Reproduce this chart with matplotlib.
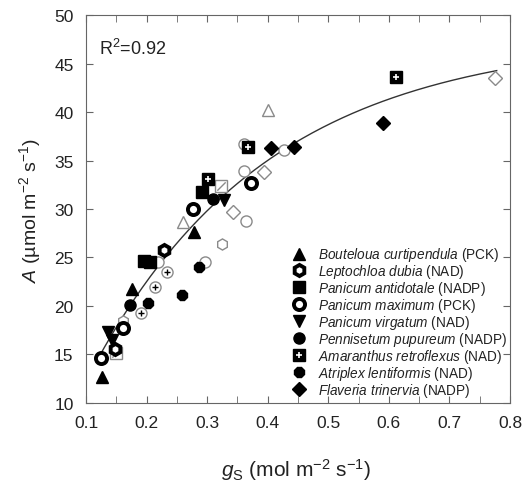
import numpy as np
import matplotlib
matplotlib.use("Agg")
import matplotlib.pyplot as plt
from matplotlib.ticker import MultipleLocator

plt.rcParams['font.family'] = ['Liberation Sans', 'DejaVu Sans']
plt.rcParams['mathtext.fontset'] = 'custom'
plt.rcParams['mathtext.rm'] = 'Liberation Sans'
plt.rcParams['mathtext.it'] = 'Liberation Sans:italic'

# --- Data: filled symbols (one list pair per species) ---
bout_gs = [0.127, 0.176, 0.279]
bout_A = [12.7, 21.8, 27.6]
lept_gs = [0.229, 0.147]
lept_A = [25.8, 15.6]
pant_gs = [0.195, 0.206, 0.291]
pant_A = [24.6, 24.5, 31.8]
pmax_gs = [0.125, 0.277, 0.372, 0.161]
pmax_A = [14.6, 30.0, 32.7, 17.7]
pvir_gs = [0.137, 0.327, 0.143]
pvir_A = [17.3, 30.9, 16.5]
penn_gs = [0.173, 0.309]
penn_A = [20.1, 31.0]
amar_gs = [0.302, 0.367, 0.612]
amar_A = [33.1, 36.4, 43.6]
atri_gs = [0.203, 0.258, 0.287]
atri_A = [20.3, 21.1, 24.0]
flav_gs = [0.405, 0.443, 0.591]
flav_A = [36.3, 36.4, 38.9]

# --- Data: open (grey) symbols ---
otri_gs = [0.260, 0.400]
otri_A = [28.7, 40.2]
ohex_gs = [0.324, 0.161]
ohex_A = [26.4, 18.5]
osq_gs = [0.322, 0.150]
osq_A = [32.4, 15.2]
oplus_gs = [0.234, 0.213, 0.190]
oplus_A = [23.5, 22.0, 19.3]
odia_gs = [0.342, 0.394, 0.775]
odia_A = [29.7, 33.8, 43.5]
ocir_gs = [0.360, 0.360, 0.364, 0.297, 0.427, 0.219]
ocir_A = [36.7, 33.9, 28.8, 24.5, 36.1, 24.5]

# fitted curve: A = c + a*(1 - exp(-k*gs)), estimated parameters
fit_a, fit_k, fit_c = 50.0, 3.41, -2.2
fit_range = [0.12, 0.778]

fig = plt.figure(figsize=(5.28, 4.89), dpi=100)
ax = fig.add_axes([0.163, 0.174, 0.803, 0.793])

grey = '#8a8a8a'
ms = 8

# fit line
xs = np.linspace(fit_range[0], fit_range[1], 200)
ax.plot(xs, fit_c + fit_a * (1 - np.exp(-fit_k * xs)), color='#333333', lw=1.0, zorder=1)

# open symbols
ok = dict(ls='none', mfc='white', mec=grey, mew=1.0, ms=ms, zorder=2)
ax.plot(otri_gs, otri_A, marker='^', **ok)
ax.plot(ohex_gs, ohex_A, marker='h', **ok)
ax.plot(osq_gs, osq_A, marker='s', **ok)
ax.plot(osq_gs, osq_A, marker=[(-1, -1), (1, 1)], ls='none', mec=grey, mew=1.0, ms=6, zorder=2)
ax.plot(oplus_gs, oplus_A, marker='o', **ok)
ax.plot(oplus_gs, oplus_A, marker='+', ls='none', mec='black', mew=1.0, ms=4, zorder=2)
ax.plot(odia_gs, odia_A, marker='D', ls='none', mfc='white', mec=grey, mew=1.0, ms=7, zorder=2)
ax.plot(ocir_gs, ocir_A, marker='o', **ok)

# filled symbols
h_bout, = ax.plot(bout_gs, bout_A, marker='^', ls='none', color='black', ms=ms, zorder=3)
h_lept, = ax.plot(lept_gs, lept_A, marker='h', ls='none', mfc='white', mec='black', mew=2.8, ms=8, zorder=3)
h_pant, = ax.plot(pant_gs, pant_A, marker='s', ls='none', color='black', ms=ms, zorder=3)
h_pmax, = ax.plot(pmax_gs, pmax_A, marker='o', ls='none', mfc='white', mec='black', mew=2.8, ms=8, zorder=3)
h_pvir, = ax.plot(pvir_gs, pvir_A, marker='v', ls='none', color='black', ms=ms, zorder=3)
h_penn, = ax.plot(penn_gs, penn_A, marker='o', ls='none', color='black', ms=ms, zorder=3)
h_amar, = ax.plot(amar_gs, amar_A, marker='s', ls='none', color='black', ms=ms, zorder=3)
h_amar2, = ax.plot(amar_gs, amar_A, marker='+', ls='none', mec='white', mew=1.2, ms=4, zorder=3)
h_atri, = ax.plot(atri_gs, atri_A, marker='8', ls='none', color='black', ms=ms, zorder=3)
h_flav, = ax.plot(flav_gs, flav_A, marker='D', ls='none', color='black', ms=7, zorder=3)

labels = [
    r'$\it{Bouteloua\ curtipendula}$ (PCK)',
    r'$\it{Leptochloa\ dubia}$ (NAD)',
    r'$\it{Panicum\ antidotale}$ (NADP)',
    r'$\it{Panicum\ maximum}$ (PCK)',
    r'$\it{Panicum\ virgatum}$ (NAD)',
    r'$\it{Pennisetum\ pupureum}$ (NADP)',
    r'$\it{Amaranthus\ retroflexus}$ (NAD)',
    r'$\it{Atriplex\ lentiformis}$ (NAD)',
    r'$\it{Flaveria\ trinervia}$ (NADP)',
]
handles = [h_bout, h_lept, h_pant, h_pmax, h_pvir, h_penn, (h_amar, h_amar2), h_atri, h_flav]
leg = ax.legend(handles, labels, loc='lower right', frameon=False, fontsize=9.8,
                handlelength=1.0, handletextpad=0.9, labelspacing=-0.08,
                borderaxespad=0.0, borderpad=0.2, bbox_to_anchor=(1.0, 0.004))
for t in leg.get_texts():
    t.set_color('#222222')

ax.text(0.03, 0.9, r'R$^2$=0.92', transform=ax.transAxes, fontsize=13, color='#222222')

ax.set_xlim(0.1, 0.8)
ax.set_ylim(10, 50)
ax.xaxis.set_major_locator(MultipleLocator(0.1))
ax.xaxis.set_minor_locator(MultipleLocator(0.05))
ax.yaxis.set_major_locator(MultipleLocator(5))
ax.tick_params(which='both', direction='in', top=True, right=True, color='#666666')
ax.tick_params(which='major', length=5, labelsize=12.5, labelcolor='#222222')
ax.tick_params(axis='x', which='major', pad=9)
ax.tick_params(axis='y', which='major', pad=9)
ax.tick_params(which='minor', length=5)
for s in ax.spines.values():
    s.set_color('#666666')
    s.set_linewidth(0.8)

# axis titles placed explicitly (pixel centres)
W, H = 528, 489
fig.text(296 / W, 1 - 470 / H, r'$\it{g}_{\rm S}$ (mol m$^{-2}$ s$^{-1}$)', fontsize=15,
         color='#222222', ha='center', va='center')
fig.text(30 / W, 1 - 210 / H, r'$\it{A}$ (µmol m$^{-2}$ s$^{-1}$)', fontsize=14,
         color='#222222', ha='center', va='center', rotation=90)

plt.savefig('out.png', dpi=100)
